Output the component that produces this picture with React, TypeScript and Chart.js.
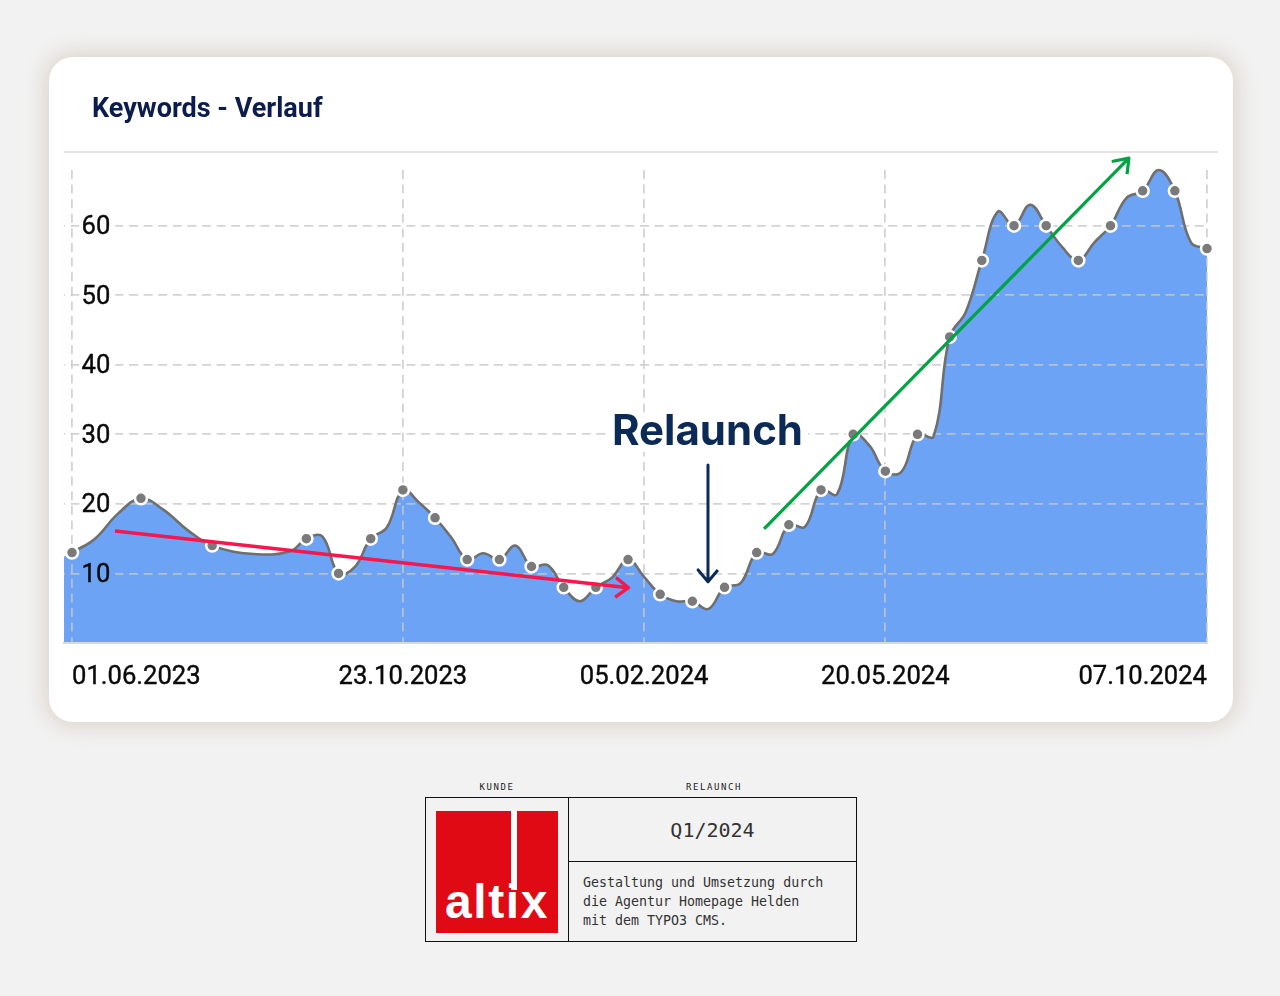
import React, { useEffect, useRef } from "react";
import { Chart, registerables } from "chart.js";

Chart.register(...registerables);

const dayOffsets = [0, 10, 20, 30, 40, 50, 61, 79, 95, 102, 109, 116, 123, 130, 137, 144, 151, 158, 165, 172, 179, 186, 193, 200, 207, 214, 221, 228, 235, 242, 249, 256, 263, 270, 277, 284, 291, 298, 305, 312, 319, 326, 333, 340, 347, 354, 361, 368, 375, 382, 389, 396, 403, 410, 417, 424, 431, 438, 445, 452, 459, 466, 473, 480, 487, 494];
const keywords = [13, 15, 18.6, 20.8, 19.1, 16.3, 14, 12.8, 13.2, 15, 15.3, 10, 10.9, 15, 16.6, 22, 20.2, 18, 15.2, 12, 12.9, 12, 14, 11, 11.2, 8, 6, 8, 9.4, 12, 9.5, 7, 6, 6, 4.9, 8, 8.6, 13, 12.8, 17, 16.7, 22, 21.4, 30, 28.4, 24.7, 24.6, 30, 29.7, 44, 47.6, 55, 62, 60, 63, 60, 56.9, 55, 57.6, 60, 64, 65, 68, 65, 57.6, 56.7];
const markedDays = [0, 30, 61, 102, 116, 130, 144, 158, 172, 186, 200, 214, 228, 242, 256, 270, 284, 298, 312, 326, 340, 354, 368, 382, 396, 410, 424, 438, 452, 466, 480, 494];

const leadIn = { x: -3.5, y: 12.4 };
const xTickDays = [0, 144, 249, 354, 494];
const xTickLabels = ["01.06.2023", "23.10.2023", "05.02.2024", "20.05.2024", "07.10.2024"];
const yTickValues = [10, 20, 30, 40, 50, 60];

const declineArrow = [
  { x: 18.7, y: 16.1 }, { x: 242.2, y: 7.95 }, { x: 237.2, y: 9.3 }, { x: 242.2, y: 7.95 }, { x: 236.4, y: 6.6 },
];
const growthArrow = [
  { x: 301.2, y: 16.4 }, { x: 460, y: 69.7 }, { x: 453.1, y: 69.25 }, { x: 460, y: 69.7 }, { x: 459.2, y: 67.4 },
];
const relaunchArrow = [
  { x: 276.8, y: 25.6 }, { x: 276.8, y: 8.8 }, { x: 272.5, y: 10.5 }, { x: 276.8, y: 8.8 }, { x: 281.1, y: 10.5 },
];

const series = dayOffsets.map((x, i) => ({ x, y: keywords[i] }));

const dashed = [9, 5.6];
const gridColor = "rgba(200,200,200,0.8)";
const areaColor = "#6ca3f5";

const overGridPlugin = {
  id: "overGrid",
  beforeDatasetDraw(_chart: any, args: any) {
    return args.index === 0;
  },
  afterDraw(chart: any) {
    for (let i = 1; i < chart.data.datasets.length; i++) {
      chart.getDatasetMeta(i).controller.draw();
    }
  },
};

function arrowDataset(data: { x: number; y: number }[], color: string, width: number) {
  return {
    data,
    borderColor: color,
    borderWidth: width,
    borderJoinStyle: "round",
    borderCapStyle: "butt",
    pointRadius: 0,
    tension: 0,
    fill: false,
  };
}

const tickStyle = {
  color: "#0a0a0a",
  textStrokeColor: "#0a0a0a",
  textStrokeWidth: 0.4,
  font: { family: "Roboto", size: 25.6 },
};

function KeywordChart() {
  const ref = useRef<HTMLCanvasElement>(null);
  useEffect(() => {
    const chart = new Chart(ref.current as HTMLCanvasElement, {
      type: "line",
      plugins: [overGridPlugin],
      data: {
        datasets: [
          {
            data: [leadIn, ...series],
            borderWidth: 0,
            borderColor: "transparent",
            backgroundColor: areaColor,
            fill: "origin",
            pointRadius: 0,
            tension: 0.4,
          },
          {
            data: series,
            borderColor: "#6f6f6f",
            borderWidth: 2.6,
            fill: false,
            tension: 0.4,
            capBezierPoints: false,
            pointBackgroundColor: "#7a7a7a",
            pointBorderColor: "#ffffff",
            pointBorderWidth: 2.5,
            pointRadius: (c: any) => (markedDays.includes(c.raw?.x) ? 6 : 0),
          },
          arrowDataset(declineArrow, "#f5174e", 3.4),
          arrowDataset(growthArrow, "#00a443", 3.2),
          arrowDataset(relaunchArrow, "#0b2a55", 3),
        ],
      } as any,
      options: {
        responsive: false,
        animation: false,
        devicePixelRatio: 1,
        layout: { padding: { left: 15, right: 26, top: 113, bottom: 0 } },
        plugins: { legend: { display: false }, tooltip: { enabled: false }, title: { display: false } },
        scales: {
          x: {
            type: "linear",
            min: leadIn.x,
            max: 494,
            afterBuildTicks(scale: any) {
              scale.ticks = xTickDays.map((value) => ({ value }));
            },
            afterFit(scale: any) {
              scale.height = 79;
            },
            grid: { color: gridColor, lineWidth: 1.8, drawTicks: false, z: 1 },
            border: { display: true, color: "#d8d8d8", width: 2, dash: dashed, z: 1 },
            ticks: {
              ...tickStyle,
              autoSkip: false,
              maxRotation: 0,
              align: "inner",
              padding: 19,
              callback: (v: any) => xTickLabels[xTickDays.indexOf(v)],
            },
          },
          y: {
            type: "linear",
            min: 0,
            max: 68,
            afterBuildTicks(scale: any) {
              scale.ticks = yTickValues.map((value) => ({ value }));
            },
            afterFit(scale: any) {
              scale.width = 0;
            },
            grid: { color: gridColor, lineWidth: 1.8, drawTicks: false, z: 1 },
            border: { display: false, dash: dashed, dashOffset: 8 },
            ticks: {
              ...tickStyle,
              mirror: true,
              padding: 17.5,
              z: 2,
              labelOffset: 2,
              showLabelBackdrop: true,
              backdropColor: (c: any) => (c.tick?.value === 10 ? areaColor : "#ffffff"),
              backdropPadding: { left: 2, right: 5, top: -5, bottom: -5 },
            },
          },
        },
      } as any,
    });
    return () => chart.destroy();
  }, []);
  return <canvas ref={ref} width={1184} height={665} style={{ position: "absolute", left: 0, top: 0, display: "block" }} />;
}

const abs = (left: number, top: number, extra: React.CSSProperties = {}): React.CSSProperties => ({
  position: "absolute",
  left,
  top,
  ...extra,
});

const mono = '"DejaVu Sans Mono", monospace';
const descriptionLines = ["Gestaltung und Umsetzung durch", "die Agentur Homepage Helden", "mit dem TYPO3 CMS."];

export default function App() {
  return (
    <div style={{ position: "absolute", left: 0, top: 0, width: 1280, height: 996, background: "#f2f2f2", overflow: "hidden" }}>
      <div
        style={abs(49, 57, {
          width: 1184,
          height: 665,
          background: "#fff",
          borderRadius: 24,
          boxShadow: "0 0 22px 3px rgba(165,140,110,0.32)",
          overflow: "hidden",
        })}
      >
        <KeywordChart />
        <div style={abs(43, 33, { font: '700 27px Roboto', color: "#0b1c4d", lineHeight: "36px", whiteSpace: "nowrap" })}>
          Keywords - Verlauf
        </div>
        <div style={abs(15, 94, { width: 1154, height: 2, background: "#e4e4e4" })} />
        <div
          style={abs(558, 356, {
            width: 201,
            height: 39,
            background: "#fff",
            textAlign: "center",
            font: '700 42px Inter',
            color: "#0b2a55",
            lineHeight: "34px",
            whiteSpace: "nowrap",
          })}
        >
          Relaunch
        </div>
      </div>

      <div style={abs(397, 782, { width: 200, textAlign: "center", font: `9px ${mono}`, letterSpacing: 1.6, color: "#222" })}>KUNDE</div>
      <div style={abs(614, 782, { width: 200, textAlign: "center", font: `9px ${mono}`, letterSpacing: 1.6, color: "#222" })}>RELAUNCH</div>
      <div style={abs(425, 797, { width: 430, height: 143, border: "1px solid #111" })} />
      <div style={abs(568, 797, { width: 1, height: 145, background: "#111" })} />
      <div style={abs(568, 861, { width: 289, height: 1, background: "#111" })} />

      <div style={abs(436, 811, { width: 122, height: 122, background: "#e00a14", overflow: "hidden" })}>
        <div style={abs(9, 61, { font: '700 48px "Liberation Sans"', color: "#fff", lineHeight: "60px", letterSpacing: 1.6, whiteSpace: "nowrap" })}>
          altix
        </div>
        <div style={abs(74.5, 0, { width: 6, height: 79, background: "#fff" })} />
      </div>

      <div style={abs(568, 817, { width: 289, textAlign: "center", font: `20px ${mono}`, color: "#333", lineHeight: "26px" })}>Q1/2024</div>
      <div style={abs(583, 873, { font: `13.3px ${mono}`, color: "#333", lineHeight: "19px", whiteSpace: "pre" })}>
        {descriptionLines.map((l) => (
          <div key={l}>{l}</div>
        ))}
      </div>
    </div>
  );
}
